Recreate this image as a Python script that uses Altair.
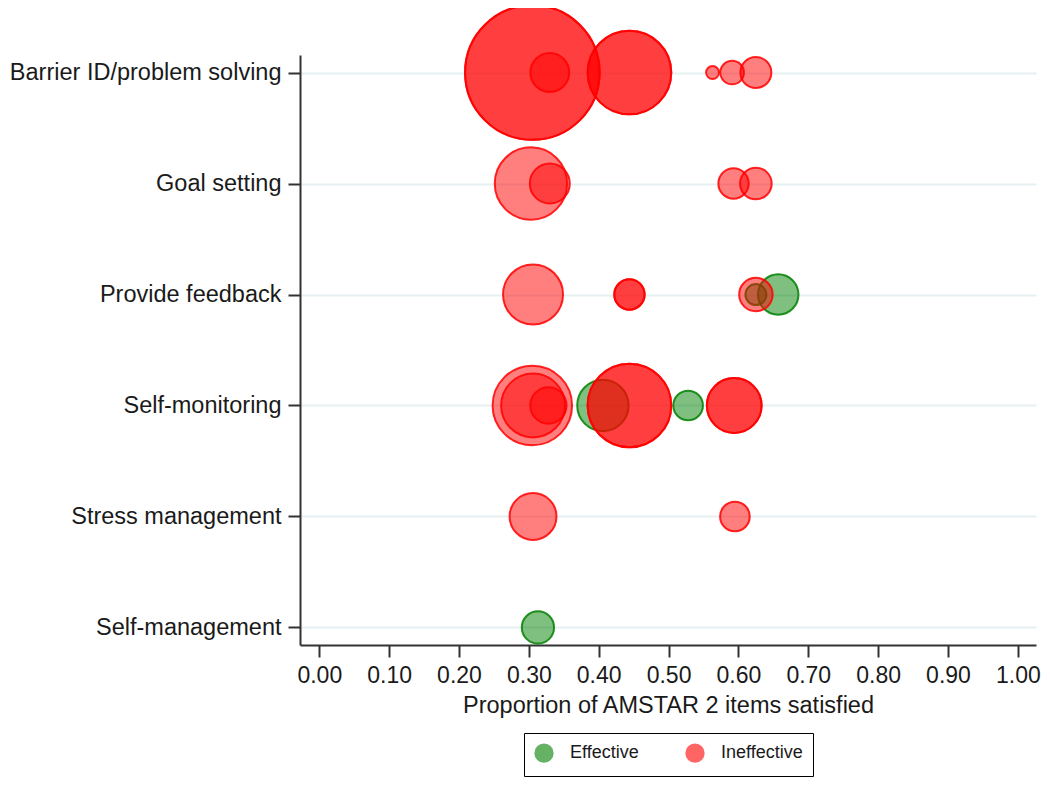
import altair as alt
import pandas as pd

# Categories (top to bottom)
techniques = [
    "Barrier ID/problem solving",
    "Goal setting",
    "Provide feedback",
    "Self-monitoring",
    "Stress management",
    "Self-management",
]

outcome_levels = ["Effective", "Ineffective"]
fill_colors = ["#008000", "#FF0000"]
stroke_colors = ["#008000", "#FF0000"]

# One entry per review marker (identical rows overlap and look darker)
point_technique = [
    "Barrier ID/problem solving", "Barrier ID/problem solving", "Barrier ID/problem solving",
    "Barrier ID/problem solving", "Barrier ID/problem solving", "Barrier ID/problem solving",
    "Barrier ID/problem solving", "Barrier ID/problem solving",
    "Goal setting", "Goal setting", "Goal setting", "Goal setting",
    "Provide feedback", "Provide feedback", "Provide feedback", "Provide feedback",
    "Provide feedback", "Provide feedback",
    "Self-monitoring", "Self-monitoring", "Self-monitoring", "Self-monitoring",
    "Self-monitoring", "Self-monitoring", "Self-monitoring", "Self-monitoring",
    "Self-monitoring",
    "Stress management", "Stress management",
    "Self-management",
]
point_proportion = [
    0.305, 0.305, 0.330, 0.444, 0.444, 0.563, 0.591, 0.625,
    0.303, 0.330, 0.593, 0.625,
    0.306, 0.444, 0.444, 0.625, 0.625, 0.657,
    0.305, 0.306, 0.328, 0.406, 0.444, 0.444, 0.528, 0.594, 0.594,
    0.306, 0.595,
    0.313,
]
point_weight = [
    453, 453, 38, 175, 175, 4.2, 14, 24,
    131, 40, 23, 25,
    90, 23, 23, 28, 11, 41,
    158, 102, 33, 66, 175, 175, 22, 75, 75,
    55, 22,
    26,
]
point_outcome = [
    "Ineffective", "Ineffective", "Ineffective", "Ineffective", "Ineffective",
    "Ineffective", "Ineffective", "Ineffective",
    "Ineffective", "Ineffective", "Ineffective", "Ineffective",
    "Ineffective", "Ineffective", "Ineffective", "Ineffective", "Effective", "Effective",
    "Ineffective", "Ineffective", "Ineffective", "Effective", "Ineffective",
    "Ineffective", "Effective", "Ineffective", "Ineffective",
    "Ineffective", "Ineffective",
    "Effective",
]

x_ticks = [0.0, 0.1, 0.2, 0.3, 0.4, 0.5, 0.6, 0.7, 0.8, 0.9, 1.0]

df = pd.DataFrame({
    "technique": point_technique,
    "proportion": point_proportion,
    "weight": point_weight,
    "outcome": point_outcome,
})

FONT = "Liberation Sans"

legend = alt.Legend(
    title=None,
    orient="none",
    legendX=224,
    legendY=678,
    direction="horizontal",
    strokeColor="black",
    fillColor="white",
    padding=10,
    symbolType="circle",
    symbolSize=300,
    symbolStrokeWidth=2,
    symbolOpacity=0.6,
    labelFont=FONT,
    labelFontSize=18,
    labelColor="#1a1a1a",
    labelOffset=16,
    columnPadding=43,
)

chart = alt.Chart(df).mark_circle(
    fillOpacity=0.5, strokeOpacity=0.85, strokeWidth=2
).encode(
    x=alt.X(
        "proportion:Q",
        scale=alt.Scale(domain=[-0.0276, 1.026], nice=False, zero=False),
        axis=alt.Axis(
            title="Proportion of AMSTAR 2 items satisfied",
            values=x_ticks,
            format=".2f",
            grid=False,
            labelFontSize=23,
            titleFontSize=23.5,
            titleFontWeight="normal",
            labelPadding=7,
            titlePadding=6,
            tickSize=12,
        ),
    ),
    y=alt.Y(
        "technique:N",
        sort=techniques,
        scale=alt.Scale(domain=techniques, type="point", padding=0.158),
        axis=alt.Axis(
            title=None,
            grid=True,
            gridColor="#E6EFF1",
            gridWidth=2,
            labelFontSize=23.5,
            labelPadding=7,
            labelLimit=500,
            tickSize=12,
        ),
    ),
    size=alt.Size(
        "weight:Q",
        scale=alt.Scale(domain=[0, 100], range=[0, 4000], zero=True),
        legend=None,
    ),
    fill=alt.Fill(
        "outcome:N",
        scale=alt.Scale(domain=outcome_levels, range=fill_colors),
        legend=legend,
    ),
    stroke=alt.Stroke(
        "outcome:N",
        scale=alt.Scale(domain=outcome_levels, range=stroke_colors),
        legend=legend,
    ),
    order=alt.Order("outcome:N", sort="ascending"),
).properties(
    width=736,
    height=590,
    background="white",
    autosize=alt.AutoSizeParams(type="none"),
    padding={"left": 292, "top": 47, "right": 6, "bottom": 135},
).configure_view(
    strokeWidth=0, stroke="transparent"
).configure_axis(
    labelFont=FONT,
    titleFont=FONT,
    labelColor="#1a1a1a",
    titleColor="#1a1a1a",
    domainColor="#333333",
    domainWidth=2,
    tickColor="#333333",
    tickWidth=2,
)

chart.save("out.html", embed_options={"renderer": "svg", "actions": False})
